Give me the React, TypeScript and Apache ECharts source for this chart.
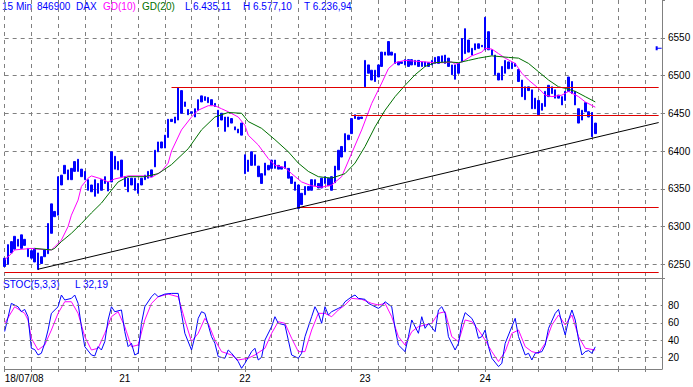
import React, { useEffect, useRef } from 'react';
import * as echarts from 'echarts';

const dayLabels = ['18/07/08', '21', '22', '23', '24'];
const barsPerDay = 36;
const slotCount = 198;
const gridEvery = 8;

const opens = [
  6258, 6250, 6265, 6270, 6283, 6271, 6283, 6271, 6268, 6253,
  6265, 6251, 6260, 6264, 6291, 6320, 6315, 6355, 6370, 6375,
  6362, 6373, 6373, 6376, 6373, 6362, 6355, 6340, 6357, 6348,
  6357, 6359, 6359, 6393, 6375, 6388, 6366, 6364, 6355, 6364,
  6357, 6355, 6362, 6364, 6366, 6379, 6399, 6404, 6404, 6418,
  6439, 6437, 6441, 6480, 6459, 6455, 6450, 6445, 6454, 6465,
  6472, 6471, 6468, 6463, 6454, 6441, 6445, 6432, 6443, 6432,
  6429, 6421, 6395, 6373, 6381, 6395, 6380, 6370, 6368, 6381,
  6377, 6388, 6381, 6376, 6377, 6377, 6366, 6359, 6355, 6329,
  6342, 6348, 6348, 6362, 6351, 6351, 6357, 6364, 6348, 6358,
  6375, 6392, 6399, 6421, 6423, 6443, 6445, 6443, 6485, 6514,
  6507, 6492, 6498, 6512, 6527, 6527, 6531, 6529, 6518, 6516,
  6514, 6521, 6514, 6520, 6512, 6518, 6512, 6517, 6514, 6516,
  6525, 6518, 6527, 6523, 6514, 6495, 6503, 6518, 6529, 6547,
  6527, 6534, 6542, 6538, 6534, 6558, 6534, 6527, 6503, 6494,
  6503, 6518, 6509, 6516, 6508, 6494, 6485, 6480, 6481, 6456,
  6467, 6454, 6459, 6472, 6485, 6481, 6474, 6472, 6467, 6479,
  6492, 6479, 6456, 6441, 6452, 6452, 6451, 6423,
];

const closes = [
  6247, 6276, 6280, 6287, 6274, 6289, 6275, 6260, 6258, 6271,
  6243, 6260, 6269, 6304, 6330, 6313, 6366, 6368, 6381, 6362,
  6377, 6386, 6389, 6366, 6362, 6348, 6346, 6362, 6344, 6362,
  6366, 6347, 6399, 6376, 6386, 6366, 6353, 6346, 6364, 6348,
  6344, 6364, 6368, 6373, 6375, 6401, 6412, 6412, 6421, 6442,
  6442, 6445, 6484, 6450, 6465, 6448, 6452, 6456, 6468, 6473,
  6467, 6464, 6461, 6459, 6432, 6450, 6426, 6445, 6437, 6428,
  6424, 6437, 6370, 6388, 6399, 6381, 6366, 6357, 6384, 6375,
  6388, 6377, 6376, 6379, 6386, 6364, 6357, 6348, 6324, 6344,
  6353, 6353, 6362, 6354, 6357, 6364, 6366, 6354, 6366, 6380,
  6401, 6406, 6423, 6415, 6443, 6448, 6442, 6445, 6520, 6503,
  6494, 6507, 6514, 6531, 6531, 6545, 6527, 6516, 6514, 6518,
  6521, 6512, 6521, 6514, 6520, 6512, 6518, 6512, 6520, 6524,
  6516, 6526, 6516, 6512, 6501, 6514, 6516, 6549, 6562, 6531,
  6536, 6542, 6536, 6540, 6577, 6534, 6527, 6501, 6494, 6512,
  6520, 6509, 6517, 6512, 6492, 6472, 6468, 6485, 6456, 6470,
  6448, 6463, 6479, 6487, 6476, 6470, 6470, 6461, 6479, 6498,
  6476, 6461, 6437, 6454, 6464, 6445, 6419, 6437,
];

const gd10 = [
  [0, 6256], [2, 6264], [3, 6269], [8, 6271], [10, 6270], [14, 6269], [15, 6273],
  [17, 6282], [19, 6300], [20, 6315], [22, 6335], [23, 6353], [25, 6364], [26, 6367],
  [29, 6363], [31, 6359], [33, 6363], [37, 6367], [42, 6367], [44, 6365], [47, 6373],
  [49, 6384], [50, 6400], [53, 6428], [56, 6445], [58, 6454], [61, 6460], [63, 6460],
  [65, 6456], [67, 6452], [70, 6445], [72, 6434], [73, 6421], [76, 6408], [79, 6390],
  [81, 6381], [84, 6378], [86, 6370], [89, 6359], [92, 6354], [95, 6352], [98, 6355],
  [101, 6366], [104, 6397], [107, 6428], [110, 6463], [113, 6490], [115, 6509],
  [117, 6517], [120, 6520], [123, 6519], [126, 6518], [129, 6517], [132, 6517],
  [134, 6518], [135, 6515], [137, 6518], [140, 6526], [143, 6531], [144, 6536],
  [146, 6535], [148, 6529], [150, 6523], [153, 6516], [155, 6503], [157, 6494],
  [160, 6483], [162, 6474], [164, 6472], [167, 6474], [169, 6479], [172, 6472],
  [174, 6465], [177, 6458],
];

const gd20 = [
  [9, 6271], [14, 6269], [15, 6271], [17, 6280], [20, 6291], [23, 6304], [26, 6318],
  [29, 6331], [32, 6348], [34, 6359], [37, 6366], [42, 6366], [46, 6370], [50, 6382],
  [55, 6403], [59, 6428], [63, 6445], [67, 6451], [71, 6450], [73, 6439], [77, 6430],
  [81, 6415], [85, 6399], [88, 6384], [91, 6373], [94, 6366], [98, 6364], [102, 6370],
  [105, 6384], [108, 6406], [111, 6432], [114, 6454], [117, 6472], [120, 6487],
  [123, 6501], [126, 6512], [129, 6517], [133, 6518], [136, 6517], [139, 6520],
  [142, 6523], [146, 6526], [151, 6524], [154, 6523], [157, 6516], [160, 6505],
  [163, 6494], [166, 6485], [168, 6483], [171, 6479], [174, 6472], [177, 6465],
];

const stocK = [
  [0, 50], [2, 82.7], [4, 78.8], [5, 73], [6, 75.7], [7, 67.2], [8, 30.5], [9, 29],
  [10, 22.7], [11, 24.7], [12, 36.3], [13, 51.7], [14, 71.1], [16, 78.8], [17, 92.4],
  [18, 86.6], [20, 88.5], [21, 92.4], [22, 82.7], [23, 55.6], [24, 32.4], [26, 22.7],
  [27, 21.6], [28, 32.4], [29, 28.5], [30, 38.2], [31, 63.4], [32, 78.8], [33, 73],
  [35, 75], [36, 49.8], [37, 32.4], [38, 36.3], [39, 22.7], [40, 24.7], [41, 59.5],
  [42, 78.8], [44, 90.4], [45, 94.3], [46, 90.4], [48, 93.5], [50, 94.3], [52, 94.3],
  [53, 71.1], [54, 47.9], [56, 28.5], [57, 44], [58, 65.3], [59, 73], [60, 71.1],
  [62, 44], [63, 36.3], [64, 20.8], [66, 18.9], [67, 28.5], [68, 24.7], [70, 15],
  [71, 7.2], [72, 13], [74, 26.6], [75, 30.5], [76, 16.9], [77, 20], [78, 40.1],
  [80, 55.6], [81, 67.2], [82, 59.5], [84, 57.6], [85, 40.1], [86, 22.7], [88, 18.9],
  [89, 24.7], [90, 44], [92, 67.2], [93, 78.8], [94, 71.1], [95, 59.5], [96, 78.8],
  [97, 69.2], [98, 73], [100, 76.9], [101, 78.8], [102, 84.6], [104, 90.4], [105, 92.4],
  [106, 88.5], [108, 87.4], [109, 82.7], [110, 80.8], [112, 76.9], [113, 79.6],
  [114, 84.6], [116, 78.8], [117, 53.7], [118, 34.3], [120, 26.6], [121, 44],
  [122, 63.4], [124, 47.9], [125, 67.2], [126, 53.7], [127, 59.5], [129, 49.8],
  [130, 75], [131, 78.8], [132, 71.1], [133, 44], [135, 28.5], [136, 36.3], [137, 59.5],
  [138, 71.9], [140, 65.3], [141, 57.6], [142, 42.1], [143, 44], [144, 51.7],
  [145, 32.4], [146, 18.9], [148, 9.2], [149, 13], [150, 36.3], [152, 55.6],
  [153, 65.3], [154, 44], [156, 22.7], [157, 24.7], [158, 16.9], [159, 24.7],
  [161, 26.6], [162, 34.3], [163, 53.7], [165, 71.1], [166, 75.7], [167, 59.5],
  [168, 45.9], [169, 63.4], [170, 75], [171, 63.4], [172, 40.1], [173, 22.7],
  [174, 26.6], [175, 27.8], [176, 24.7], [177, 32.19],
];

const stocD = [
  [0, 59.5], [3, 78.8], [6, 71.1], [7, 63.4], [8, 42.1], [10, 28.5], [12, 34.3],
  [14, 51.7], [16, 71.1], [18, 84.6], [20, 84.6], [22, 71.1], [24, 44], [26, 28.5],
  [28, 30.5], [30, 47.9], [32, 67.2], [34, 73], [36, 55.6], [38, 32.4], [40, 34.3],
  [42, 63.4], [44, 82.7], [46, 90.4], [49, 93.5], [52, 90.4], [54, 63.4], [56, 38.2],
  [58, 47.9], [60, 65.3], [61, 59.5], [63, 40.1], [65, 26.6], [68, 22.7], [70, 16.9],
  [73, 18.9], [75, 22.7], [78, 30.5], [80, 47.9], [82, 61.4], [84, 59.5], [86, 42.1],
  [88, 26.6], [90, 26.6], [92, 51.7], [94, 71.1], [96, 71.1], [98, 67.2], [100, 75],
  [102, 80.8], [104, 88.5], [107, 87.4], [110, 82.7], [112, 80.8], [114, 82.7],
  [116, 67.2], [118, 44], [120, 34.3], [122, 49.8], [124, 55.6], [126, 57.6],
  [128, 59.5], [130, 71.1], [132, 73], [134, 44], [136, 38.2], [138, 63.4], [140, 61.4],
  [142, 51.7], [144, 40.1], [146, 26.6], [148, 15], [150, 26.6], [152, 47.9],
  [154, 51.7], [156, 32.4], [158, 26.6], [160, 24.7], [162, 36.3], [164, 57.6],
  [166, 69.2], [168, 57.6], [170, 69.2], [172, 44], [174, 30.5], [177, 28.5],
];

const priceTicks = [6250, 6300, 6350, 6400, 6450, 6500, 6550];
const stocTicks = [20, 40, 60, 80];

const levels = [
  { value: 6485, from: 50 },
  { value: 6447, from: 104 },
  { value: 6325, from: 88 },
  { value: 6240, from: 0 },
];
const levelEnd = 196;
const trendLine = [[10, 6243.4], [196, 6437.7]];
const priceMarker = [196, 6536];

const BLUE = '#0000ff';
const MAGENTA = '#ff00ff';
const GREEN = '#007000';
const RED = '#e00000';
const GRAY = '#808080';
const FONT = '"Liberation Sans", Arial, sans-serif';

const headerItems = [
  { text: '15 Min', x: 2, color: BLUE },
  { text: '846900', x: 37, color: BLUE },
  { text: 'DAX', x: 76, color: BLUE },
  { text: 'GD(10)', x: 103, color: MAGENTA },
  { text: 'GD(20)', x: 142, color: GREEN },
  { text: 'L 6.435,11', x: 185, color: BLUE },
  { text: 'H 6.577,10', x: 243, color: BLUE },
  { text: 'T 6.236,94', x: 304, color: BLUE },
];
const stocItems = [
  { text: 'STOC(5,3,3)', x: 3, color: BLUE },
  { text: 'L 32,19', x: 75, color: BLUE },
];

const categories = Array.from({ length: slotCount }, (_, i) => `${Math.floor(i / barsPerDay)}-${i % barsPerDay}`);

export default function App() {
  const ref = useRef<HTMLDivElement>(null);
  useEffect(() => {
    if (!ref.current) return;
    const chart = echarts.init(ref.current, null, { renderer: 'svg' });
    const candles = opens.map((o, i) => {
      const c = closes[i];
      return [o, c, Math.min(o, c), Math.max(o, c)];
    });
    const gridLeft = 4.67;
    const gridRight = 31;
    const mkX = (gi: number) => ({
      type: 'category',
      gridIndex: gi,
      data: categories,
      boundaryGap: false,
      axisLine: { show: true, lineStyle: { color: GRAY, width: 1 } },
      axisTick: {
        show: gi === 1,
        interval: (i: number) => i % gridEvery === 0,
        length: 3,
        lineStyle: { color: GRAY },
      },
      axisLabel: {
        show: gi === 1,
        interval: (i: number) => i % barsPerDay === 0 && i / barsPerDay < dayLabels.length,
        formatter: (_v: string, i: number) => (i % barsPerDay === 0 ? dayLabels[i / barsPerDay] ?? '' : ''),
        fontSize: 10,
        fontFamily: FONT,
        color: '#000',
        margin: 4,
        alignMinLabel: 'left',
      },
      splitLine: {
        show: true,
        interval: (i: number) => i % gridEvery === 0,
        lineStyle: { color: GRAY, type: [4, 4], width: 1 },
      },
    });
    const option: any = {
      animation: false,
      textStyle: { fontFamily: FONT },
      grid: [
        { left: gridLeft, right: gridRight, top: 0, height: 278, outerBoundsMode: 'none', containLabel: false },
        { left: gridLeft, right: gridRight, top: 278, height: 91, outerBoundsMode: 'none', containLabel: false },
      ],
      xAxis: [mkX(0), mkX(1)],
      yAxis: [
        {
          type: 'value',
          gridIndex: 0,
          position: 'right',
          min: 6231.8,
          max: 6600,
          splitNumber: 7,
          minInterval: 50,
          maxInterval: 50,
          axisLine: { show: true, lineStyle: { color: GRAY } },
          axisTick: { show: true, length: 3, lineStyle: { color: GRAY } },
          axisLabel: {
            formatter: (v: number) => (priceTicks.some((t) => Math.abs(t - v) < 1e-6) ? String(Math.round(v)) : ''),
            fontSize: 10,
            fontFamily: FONT,
            color: '#000',
            margin: 6,
          },
          splitLine: { show: true, showMinLine: false, showMaxLine: false, lineStyle: { color: GRAY, type: [4, 4], width: 1 } },
        },
        {
          type: 'value',
          gridIndex: 1,
          position: 'right',
          min: 6.4,
          max: 112.2,
          splitNumber: 5,
          minInterval: 20,
          maxInterval: 20,
          axisLine: { show: true, lineStyle: { color: GRAY } },
          axisTick: { show: false },
          axisLabel: {
            formatter: (v: number) => (stocTicks.some((t) => Math.abs(t - v) < 1e-6) ? String(Math.round(v)) : ''),
            fontSize: 10,
            fontFamily: FONT,
            color: '#000',
            margin: 6,
          },
          splitLine: { show: false },
        },
      ],
      series: [
        {
          type: 'candlestick',
          xAxisIndex: 0,
          yAxisIndex: 0,
          data: candles,
          barWidth: 2,
          clip: false,
          itemStyle: { color: BLUE, color0: BLUE, borderColor: BLUE, borderColor0: BLUE, borderWidth: 1 },
          markLine: {
            silent: true,
            symbol: ['none', 'none'],
            label: { show: false },
            lineStyle: { color: RED, width: 1, type: 'solid' },
            data: [
              ...levels.map((l) => [{ coord: [l.from, l.value] }, { coord: [levelEnd, l.value] }]),
              [
                { coord: trendLine[0], lineStyle: { color: '#000', width: 1, type: 'solid' } },
                { coord: trendLine[1] },
              ],
            ],
          },
        },
        {
          type: 'scatter',
          xAxisIndex: 0,
          yAxisIndex: 0,
          data: [priceMarker],
          symbol: 'path://M0,0 L2,0 L2,1.5 L6,1.5 L6,2.5 L2,2.5 L2,4 L0,4 Z',
          symbolSize: [6, 4],
          symbolKeepAspect: false,
          itemStyle: { color: BLUE, opacity: 1 },
          silent: true,
          clip: false,
        },
        {
          type: 'line',
          xAxisIndex: 0,
          yAxisIndex: 0,
          data: gd10,
          showSymbol: false,
          lineStyle: { color: MAGENTA, width: 1 },
          silent: true,
        },
        {
          type: 'line',
          xAxisIndex: 0,
          yAxisIndex: 0,
          data: gd20,
          showSymbol: false,
          lineStyle: { color: GREEN, width: 1 },
          silent: true,
        },
        {
          type: 'line',
          xAxisIndex: 1,
          yAxisIndex: 1,
          data: stocD,
          showSymbol: false,
          lineStyle: { color: MAGENTA, width: 1 },
          silent: true,
        },
        {
          type: 'line',
          xAxisIndex: 1,
          yAxisIndex: 1,
          data: stocK,
          showSymbol: false,
          lineStyle: { color: BLUE, width: 1 },
          silent: true,
          markLine: {
            silent: true,
            symbol: ['none', 'none'],
            label: { show: false },
            lineStyle: { color: GRAY, width: 1, type: [4, 4] },
            data: stocTicks.map((v) => ({ yAxis: v })),
          },
        },
      ],
      graphic: [
        ...headerItems.map((h) => ({
          type: 'text',
          x: h.x,
          y: 1,
          silent: true,
          style: { text: h.text, fill: h.color, font: `10px ${FONT}`, verticalAlign: 'top', align: 'left' },
        })),
        ...stocItems.map((h) => ({
          type: 'text',
          x: h.x,
          y: 279,
          silent: true,
          style: { text: h.text, fill: h.color, font: `10px ${FONT}`, verticalAlign: 'top', align: 'left' },
        })),
      ],
    };
    chart.setOption(option);
    return () => chart.dispose();
  }, []);
  return (
    <div
      ref={ref}
      style={{ position: 'fixed', left: 0, top: 0, width: 693, height: 387, background: '#fff' }}
    />
  );
}
